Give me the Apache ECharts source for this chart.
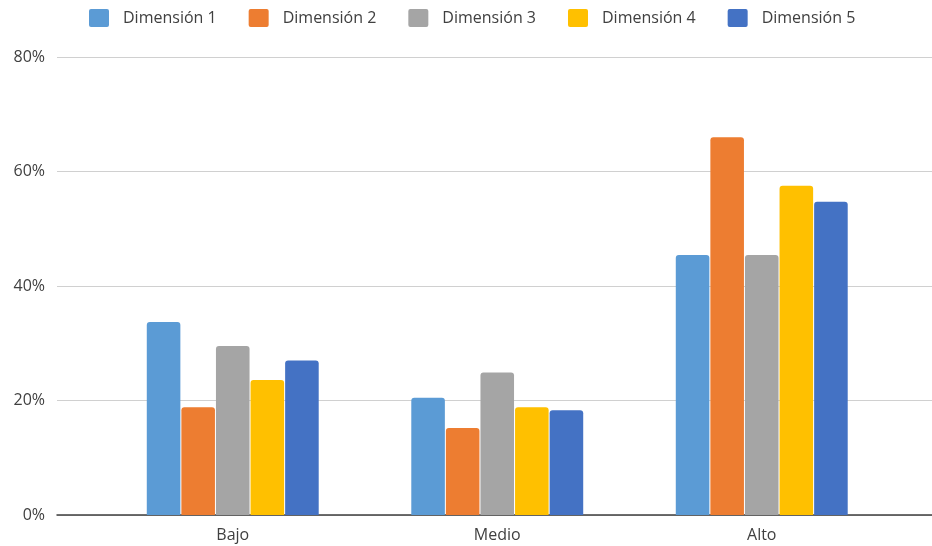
<!DOCTYPE html>
<html>
<head>
<meta charset="utf-8">
<script src="https://cdn.jsdelivr.net/npm/echarts@6/dist/echarts.min.js"></script>
<style>
  html, body { margin: 0; padding: 0; background: #ffffff; }
  #chart { width: 932px; height: 546px; }
</style>
</head>
<body>
<div id="chart"></div>
<script>
// Categories and series (percent values)
const categories = ['Bajo', 'Medio', 'Alto'];
const seriesNames = ['Dimensión 1', 'Dimensión 2', 'Dimensión 3', 'Dimensión 4', 'Dimensión 5'];
const dim1 = [33.7, 20.5, 45.4];
const dim2 = [18.8, 15.2, 66.0];
const dim3 = [29.5, 24.9, 45.4];
const dim4 = [23.6, 18.8, 57.5];
const dim5 = [27.0, 18.3, 54.7];
const yTicks = [0, 20, 40, 60, 80];

const colors = ['#5B9BD5', '#ED7D31', '#A5A5A5', '#FFC000', '#4472C4'];
const values = [dim1, dim2, dim3, dim4, dim5];
const font = '"Open Sans", "DejaVu Sans", sans-serif';

const chart = echarts.init(document.getElementById('chart'), null, { renderer: 'canvas' });

chart.setOption({
  animation: false,
  color: colors,
  legend: {
    top: 9,
    left: 89,
    padding: 0,
    icon: 'path://M2,0 L18,0 Q20,0 20,2 L20,16 Q20,18 18,18 L2,18 Q0,18 0,16 L0,2 Q0,0 2,0 Z',
    itemWidth: 20,
    itemHeight: 18,
    itemGap: 32,
    textStyle: {
      fontFamily: font, fontSize: 16, color: '#404040',
      padding: [2, 0, 0, 9]
    },
    data: seriesNames
  },
  grid: [
    // frame for value axis labels, gridlines and baseline
    { left: 57, right: 0, top: 57, bottom: 31, containLabel: false },
    // frame for the bars
    { left: 100.5, right: 38, top: 57, bottom: 31, containLabel: false }
  ],
  xAxis: [
    {
      gridIndex: 0, type: 'value', min: 0, max: 1,
      axisLabel: { show: false }, axisTick: { show: false }, splitLine: { show: false },
      axisLine: { show: true, onZero: false, lineStyle: { color: '#3f3f3f', width: 1.5 } }
    },
    {
      gridIndex: 1, type: 'category', data: categories,
      axisLine: { show: false }, axisTick: { show: false },
      axisLabel: { fontFamily: font, fontSize: 16, color: '#404040', margin: 12 }
    }
  ],
  yAxis: [
    {
      gridIndex: 0, type: 'value', min: yTicks[0], max: yTicks[yTicks.length - 1], interval: 20,
      axisLine: { show: false }, axisTick: { show: false },
      axisLabel: { fontFamily: font, fontSize: 16, color: '#404040', margin: 12, formatter: '{value}%' },
      splitLine: { show: true, lineStyle: { color: '#d0d0d0', width: 1.2 } }
    },
    {
      gridIndex: 1, type: 'value', min: yTicks[0], max: yTicks[yTicks.length - 1], interval: 20,
      axisLine: { show: false }, axisTick: { show: false },
      axisLabel: { show: false }, splitLine: { show: false }
    }
  ],
  series: seriesNames.map((name, i) => ({
    name: name,
    type: 'bar',
    xAxisIndex: 1,
    yAxisIndex: 1,
    data: values[i],
    barGap: '3%',
    barCategoryGap: '35%',
    itemStyle: { color: colors[i], borderRadius: [3, 3, 0, 0] }
  }))
});
</script>
</body>
</html>
